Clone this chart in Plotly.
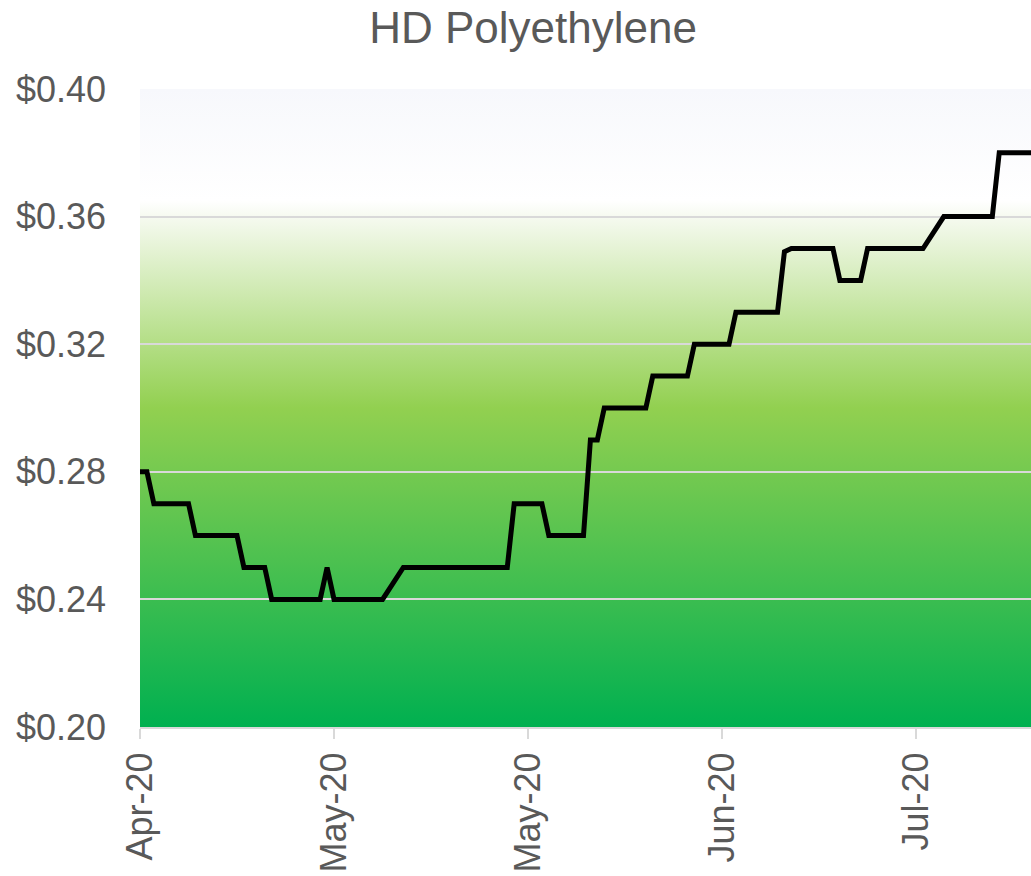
import base64
import plotly.graph_objects as go

# ---- data ----
dates = [
    "2020-04-05", "2020-04-06", "2020-04-07", "2020-04-12", "2020-04-13",
    "2020-04-19", "2020-04-20", "2020-04-23", "2020-04-24", "2020-05-01",
    "2020-05-02", "2020-05-03", "2020-05-10", "2020-05-13", "2020-05-28",
    "2020-05-29", "2020-06-02", "2020-06-03", "2020-06-08", "2020-06-09",
    "2020-06-10", "2020-06-11", "2020-06-17", "2020-06-18", "2020-06-23",
    "2020-06-24", "2020-06-29", "2020-06-30", "2020-07-06", "2020-07-07",
    "2020-07-08", "2020-07-14", "2020-07-15", "2020-07-18", "2020-07-19",
    "2020-07-27", "2020-07-30", "2020-08-06", "2020-08-07", "2020-08-12",
]
prices = [
    0.28, 0.28, 0.27, 0.27, 0.26,
    0.26, 0.25, 0.25, 0.24, 0.24,
    0.25, 0.24, 0.24, 0.25, 0.25,
    0.27, 0.27, 0.26, 0.26, 0.29,
    0.29, 0.30, 0.30, 0.31, 0.31,
    0.32, 0.32, 0.33, 0.33, 0.349,
    0.35, 0.35, 0.34, 0.34, 0.35,
    0.35, 0.36, 0.36, 0.38, 0.38,
]

y_tick_values = [0.20, 0.24, 0.28, 0.32, 0.36, 0.40]
y_tick_labels = ["$0.20", "$0.24", "$0.28", "$0.32", "$0.36", "$0.40"]
x_tick_dates = ["2020-04-05", "2020-05-03", "2020-05-31", "2020-06-28", "2020-07-26"]
x_tick_labels = ["Apr-20", "May-20", "May-20", "Jun-20", "Jul-20"]
x_range = ["2020-04-05", "2020-08-11 14:00"]
y_range = [0.20, 0.40]

# background band gradient (value -> colour)
band_stops = [(0.40, "#f7f8fc"), (0.365, "#ffffff"), (0.36, "#f6faf0"),
              (0.30, "#92d050"), (0.20, "#00b050")]

FONT = "Liberation Sans, Arial, Helvetica, sans-serif"
TEXT = "#595959"

span = y_range[1] - y_range[0]
stops_svg = "".join(
    f"<stop offset='{(y_range[1] - v) / span:.4f}' stop-color='{c}'/>" for v, c in band_stops
)
svg = (
    "<svg xmlns='http://www.w3.org/2000/svg' width='100' height='100' "
    "viewBox='0 0 100 100' preserveAspectRatio='none'>"
    "<defs><linearGradient id='g' x1='0' y1='0' x2='0' y2='1'>" + stops_svg +
    "</linearGradient></defs><rect x='0' y='0' width='100' height='100' fill='url(#g)'/></svg>"
)
svg_uri = "data:image/svg+xml;base64," + base64.b64encode(svg.encode()).decode()

fig = go.Figure()
fig.add_trace(go.Scatter(
    x=dates, y=prices, mode="lines",
    line=dict(color="#000000", width=5),
    hoverinfo="x+y", showlegend=False,
))

fig.add_layout_image(dict(
    source=svg_uri, xref="paper", yref="paper", x=0, y=1, sizex=1, sizey=1,
    xanchor="left", yanchor="top", sizing="stretch", layer="below",
))

fig.update_layout(
    width=1031, height=876,
    margin=dict(l=140, r=0, t=89, b=149, pad=0, autoexpand=False),
    paper_bgcolor="#ffffff", plot_bgcolor="rgba(0,0,0,0)",
    title=dict(text="HD Polyethylene", x=533 / 1031, xref="container", xanchor="center",
               y=0.986, yref="container", yanchor="top",
               font=dict(family=FONT, size=44, color=TEXT)),
    font=dict(family=FONT, color=TEXT),
    showlegend=False,
)
fig.update_xaxes(
    type="date", range=x_range, automargin=False,
    tickvals=x_tick_dates, ticktext=x_tick_labels, tickangle=-90,
    tickfont=dict(family=FONT, size=36, color=TEXT),
    ticks="outside", ticklen=10, tickwidth=2, tickcolor="#d9d9d9",
    ticklabelstandoff=-1,
    showline=True, linecolor="#d9d9d9", linewidth=2,
    showgrid=False, zeroline=False,
)
fig.update_yaxes(
    range=y_range, automargin=False, tickvals=y_tick_values, ticktext=y_tick_labels,
    tickfont=dict(family=FONT, size=36, color=TEXT),
    ticks="", ticklabelstandoff=33,
    showgrid=True, gridcolor="#d9d9d9", gridwidth=2,
    showline=False, zeroline=False,
)

fig.write_html(
    "out.html",
    config={"displayModeBar": False},
    post_script="document.body.style.margin='0';document.body.style.overflow='hidden';",
)
